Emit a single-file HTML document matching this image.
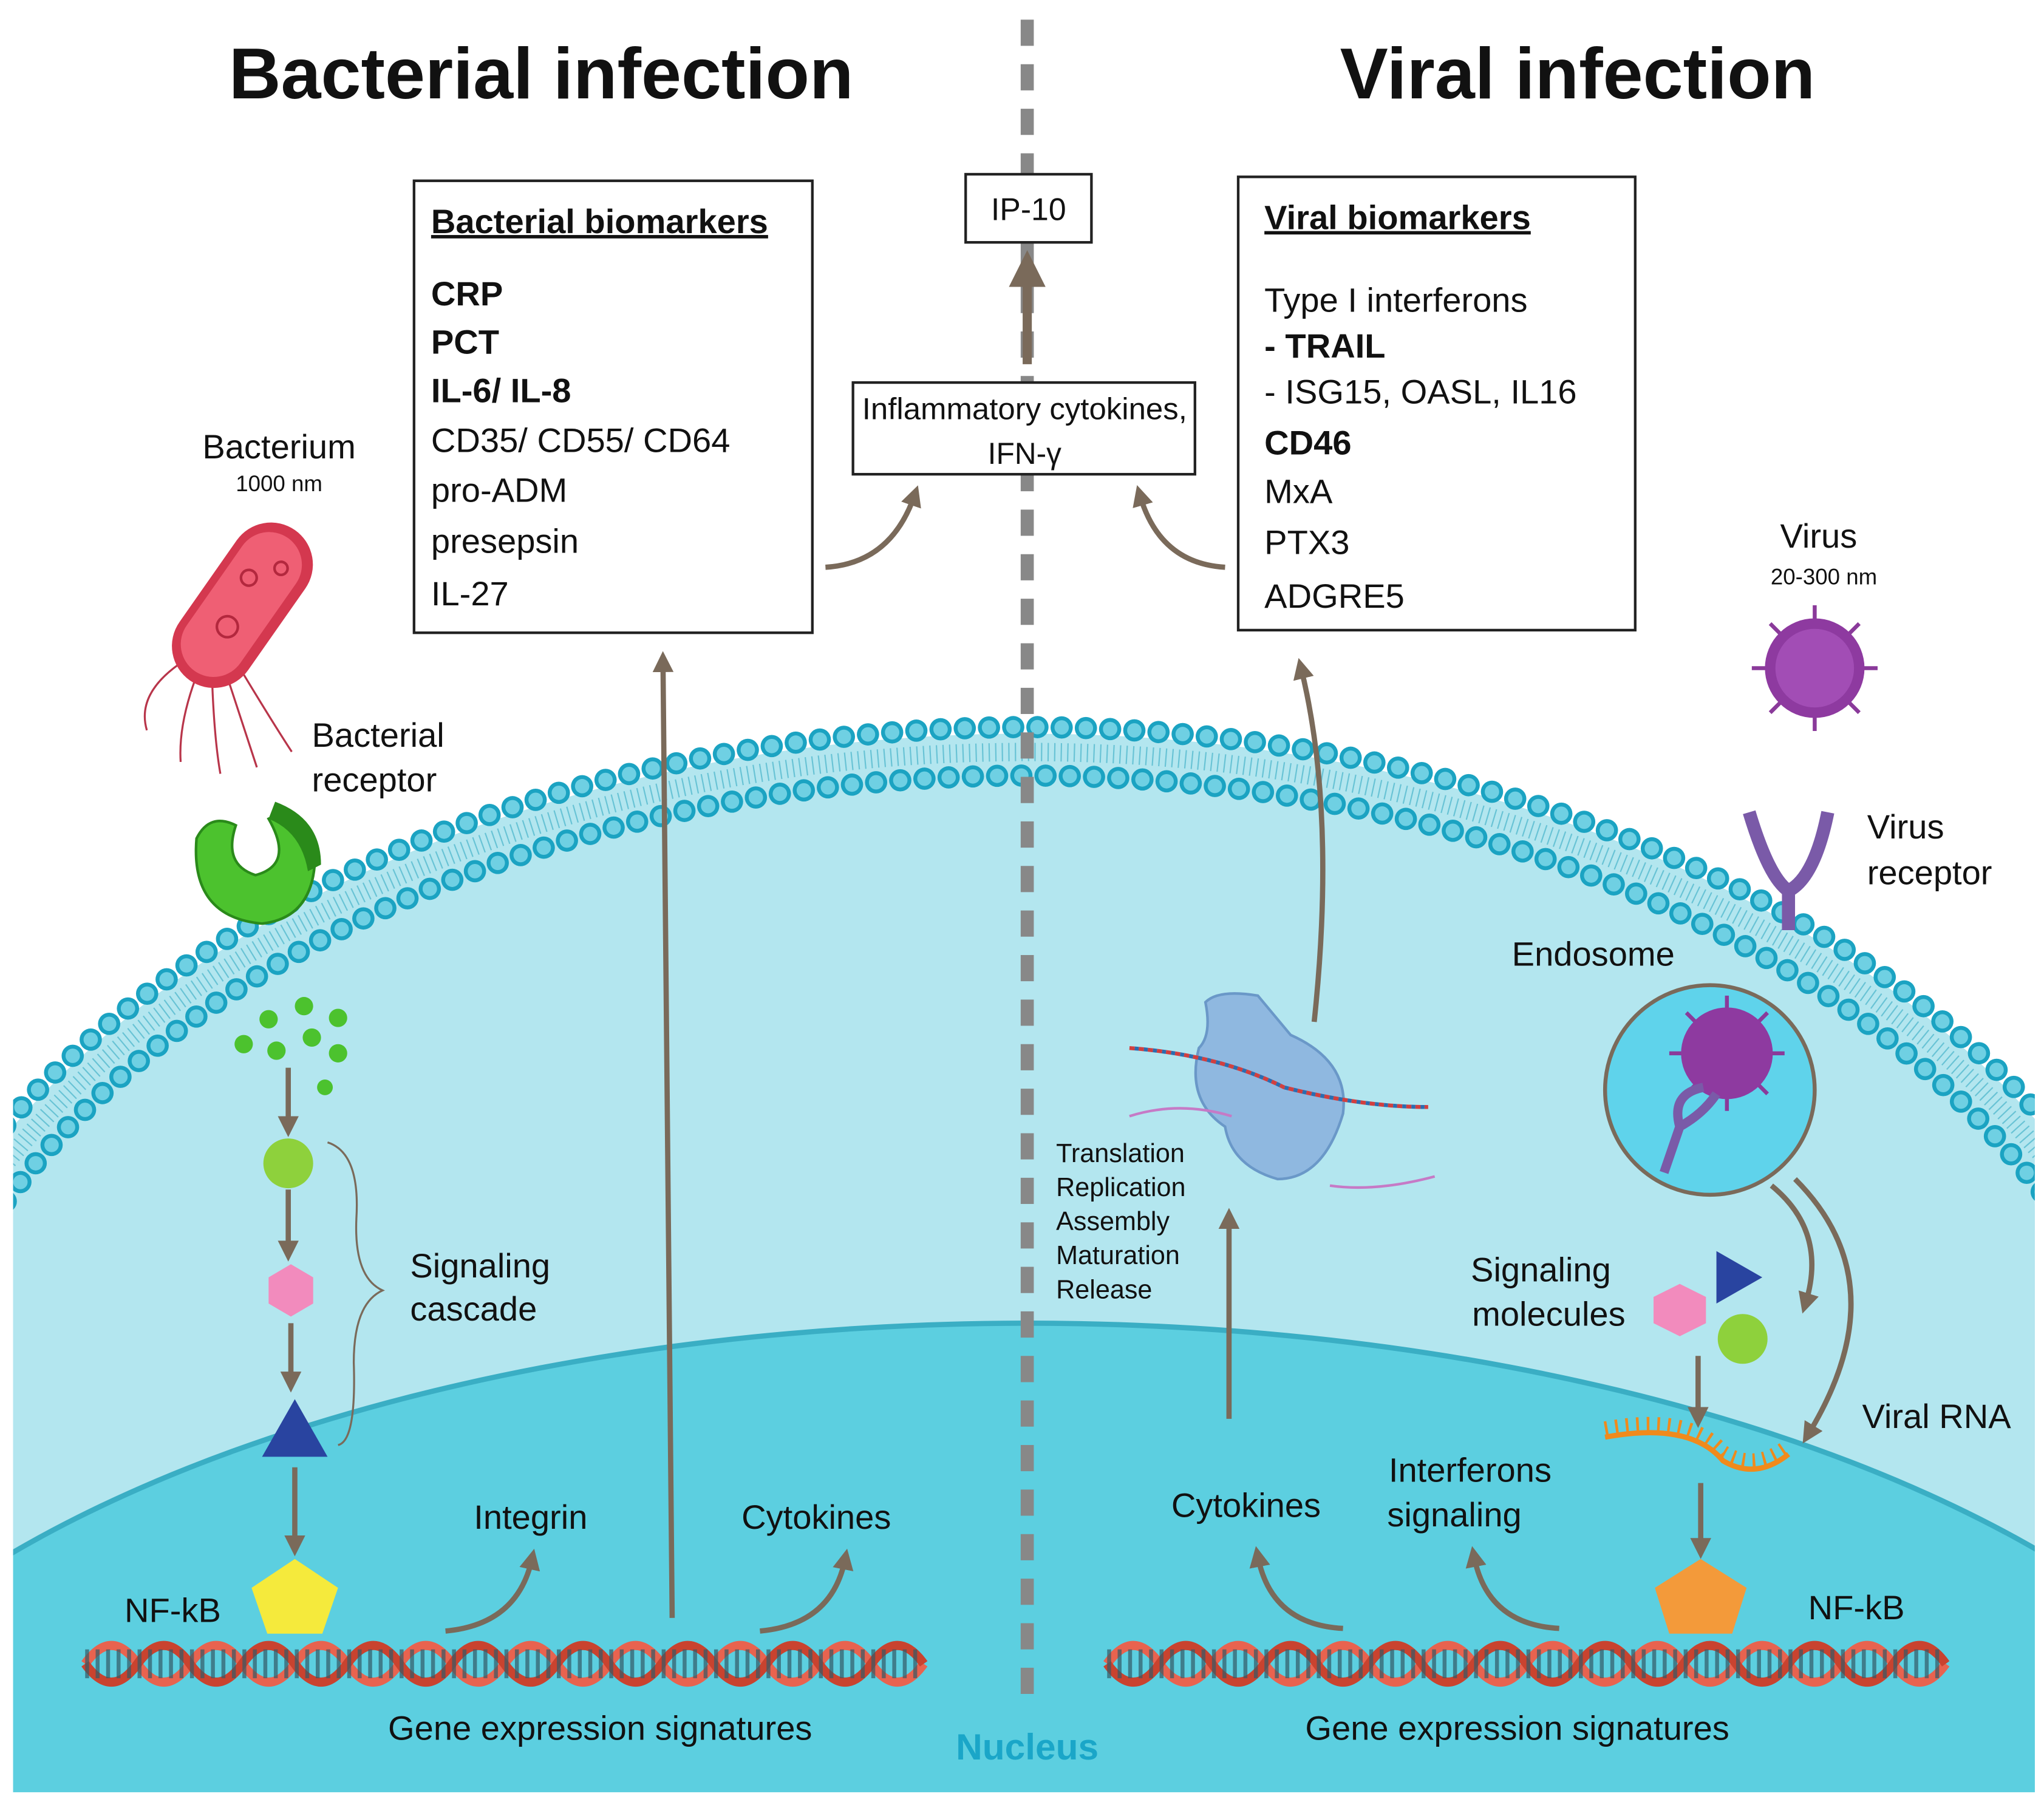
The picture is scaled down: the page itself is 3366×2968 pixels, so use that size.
<!DOCTYPE html>
<html><head><meta charset="utf-8"><style>
html,body{margin:0;padding:0;background:#fff;width:3366px;height:2968px;overflow:hidden;}
svg{display:block;}
text{font-family:"Liberation Sans",sans-serif;fill:#111;}
</style></head><body>
<svg width="3366" height="2968" viewBox="0 0 1560 1375.5" preserveAspectRatio="none" xmlns="http://www.w3.org/2000/svg">
<defs>
<clipPath id="cc"><rect x="10" y="0" width="1543" height="1368"/></clipPath>
<marker id="ah" viewBox="0 0 10 10" refX="5" refY="5" markerWidth="4" markerHeight="4" orient="auto"><path d="M0,0 L10,5 L0,10 z" fill="#7a6a5a"/></marker>
</defs>
<rect width="1560" height="1376" fill="#fff"/>
<g clip-path="url(#cc)">
<ellipse cx="784" cy="1172" rx="900" ry="612" fill="#b3e6ef"/>
<ellipse cx="784" cy="1172" rx="886" ry="598" fill="none" stroke="#1e9fbb" stroke-width="14" stroke-dasharray="1 4" opacity="0.5"/>
<ellipse cx="784" cy="1172" rx="905" ry="617" fill="none" stroke="#1ba3c2" stroke-width="17" stroke-dasharray="0 18.5" stroke-linecap="round"/>
<ellipse cx="784" cy="1172" rx="905" ry="617" fill="none" stroke="#6fd0e3" stroke-width="11" stroke-dasharray="0 18.5" stroke-linecap="round"/>
<ellipse cx="784" cy="1172" rx="868" ry="580" fill="none" stroke="#1ba3c2" stroke-width="17" stroke-dasharray="0 18.5" stroke-linecap="round"/>
<ellipse cx="784" cy="1172" rx="868" ry="580" fill="none" stroke="#6fd0e3" stroke-width="11" stroke-dasharray="0 18.5" stroke-linecap="round"/>
<ellipse cx="784" cy="1172" rx="858" ry="570" fill="#b3e6ef"/>
<ellipse cx="784" cy="1487" rx="1000" ry="477" fill="#5ccfe0" stroke="#3aaec4" stroke-width="4"/>
</g>
<line x1="784" y1="15" x2="784" y2="1300" stroke="#888" stroke-width="10" stroke-dasharray="20 14"/>
<text x="413" y="75" font-size="55" font-weight="bold" text-anchor="middle">Bacterial infection</text>
<text x="1204" y="75" font-size="55" font-weight="bold" text-anchor="middle">Viral infection</text>
<g fill="#fff" stroke="#222" stroke-width="2">
<rect x="316" y="138" width="304" height="345"/>
<rect x="737" y="133" width="96" height="52"/>
<rect x="651" y="292" width="261" height="70"/>
<rect x="945" y="135" width="303" height="346"/>
</g>
<g font-size="26">
<text x="329" y="178" font-weight="bold" text-decoration="underline">Bacterial biomarkers</text>
<text x="329" y="233" font-weight="bold">CRP</text>
<text x="329" y="270" font-weight="bold">PCT</text>
<text x="329" y="307" font-weight="bold">IL-6/ IL-8</text>
<text x="329" y="345">CD35/ CD55/ CD64</text>
<text x="329" y="383">pro-ADM</text>
<text x="329" y="422">presepsin</text>
<text x="329" y="462">IL-27</text>
<text x="965" y="175" font-weight="bold" text-decoration="underline">Viral biomarkers</text>
<text x="965" y="238">Type I interferons</text>
<text x="965" y="273" font-weight="bold">- TRAIL</text>
<text x="965" y="308">- ISG15, OASL, IL16</text>
<text x="965" y="347" font-weight="bold">CD46</text>
<text x="965" y="384">MxA</text>
<text x="965" y="423">PTX3</text>
<text x="965" y="464">ADGRE5</text>
</g>
<text x="785" y="168" font-size="24" text-anchor="middle">IP-10</text>
<text x="782" y="320" font-size="23" text-anchor="middle" textLength="248" lengthAdjust="spacingAndGlyphs">Inflammatory cytokines,</text>
<text x="782" y="354" font-size="23" text-anchor="middle">IFN-γ</text>
<g fill="none" stroke="#7a6a5a" stroke-width="4" marker-end="url(#ah)">
<line x1="784" y1="278" x2="784" y2="205" stroke-width="7"/>
<path d="M630,433 Q680,430 698,378"/>
<path d="M935,433 Q885,430 870,378"/>
<path d="M513,1235 L506,505"/>
<path d="M1003,780 Q1020,620 993,510"/>
<line x1="938" y1="1083" x2="938" y2="930"/>
<path d="M340,1245 Q395,1240 406,1190"/>
<path d="M580,1245 Q635,1240 645,1190"/>
<path d="M1025,1243 Q970,1240 960,1188"/>
<path d="M1190,1243 Q1135,1240 1125,1188"/>
<line x1="220" y1="815" x2="220" y2="860"/>
<line x1="220" y1="908" x2="220" y2="955"/>
<line x1="222" y1="1010" x2="222" y2="1055"/>
<line x1="225" y1="1120" x2="225" y2="1180"/>
<line x1="1296" y1="1035" x2="1296" y2="1082"/>
<line x1="1298" y1="1132" x2="1298" y2="1182"/>
<path d="M1352,905 Q1395,940 1378,995"/>
<path d="M1370,900 Q1450,980 1380,1095"/>
</g>
<g transform="translate(185,462) rotate(-55)">
<g stroke="#b8354a" stroke-width="1.5" fill="none">
<path d="M-55,-10 Q-100,-30 -120,-5"/><path d="M-55,0 Q-100,10 -125,30"/><path d="M-55,10 Q-95,40 -115,60"/><path d="M-50,20 Q-80,60 -95,80"/><path d="M-40,25 Q-60,70 -70,95"/>
</g>
<rect x="-70" y="-32" width="140" height="64" rx="32" fill="#d4384f"/>
<rect x="-62" y="-26" width="124" height="50" rx="25" fill="#ef5f74"/>
<circle cx="-20" cy="0" r="8" fill="none" stroke="#b3283e" stroke-width="2"/><circle cx="20" cy="-8" r="6" fill="none" stroke="#b3283e" stroke-width="2"/><circle cx="40" cy="8" r="5" fill="none" stroke="#b3283e" stroke-width="2"/>
</g>
<text x="213" y="350" font-size="26" text-anchor="middle">Bacterium</text>
<text x="213" y="375" font-size="17" text-anchor="middle">1000 nm</text>
<text x="238" y="570" font-size="26">Bacterial</text>
<text x="238" y="604" font-size="26">receptor</text>
<path d="M150,640 Q145,700 200,705 Q245,700 240,640 Q225,615 205,625 Q225,660 195,668 Q170,660 180,630 Q160,620 150,640z" fill="#4cc22e" stroke="#2a8a1a" stroke-width="2"/>
<path d="M210,612 Q245,625 245,660 L235,665 Q230,635 205,625z" fill="#2a8a1a"/>
<g fill="#4cc22e"><circle cx="186" cy="797" r="7"/><circle cx="205" cy="778" r="7"/><circle cx="232" cy="768" r="7"/><circle cx="258" cy="777" r="7"/><circle cx="211" cy="802" r="7"/><circle cx="238" cy="792" r="7"/><circle cx="258" cy="804" r="7"/><circle cx="248" cy="830" r="6"/></g>
<circle cx="220" cy="888" r="19" fill="#8ed13c"/>
<polygon points="222,965 239,975 239,995 222,1005 205,995 205,975" fill="#f28bbd"/>
<polygon points="225,1068 250,1112 200,1112" fill="#2944a0"/>
<polygon points="225,1190 258,1212 246,1247 204,1247 192,1212" fill="#f5ea3c"/>
<path d="M250,872 Q275,880 272,930 Q270,975 292,985 Q270,995 270,1040 Q272,1100 258,1103" fill="none" stroke="#7a6a5a" stroke-width="1.5"/>
<text x="313" y="975" font-size="26">Signaling</text>
<text x="313" y="1008" font-size="26">cascade</text>
<text x="95" y="1238" font-size="26">NF-kB</text>
<text x="405" y="1167" font-size="26" text-anchor="middle">Integrin</text>
<text x="623" y="1167" font-size="26" text-anchor="middle">Cytokines</text>
<g fill="none" stroke-width="7">
<path d="M65,1270 q20,-28 40,0 t40,0 t40,0 t40,0 t40,0 t40,0 t40,0 t40,0 t40,0 t40,0 t40,0 t40,0 t40,0 t40,0 t40,0 t40,0" stroke="#e8634f"/>
<path d="M65,1270 q20,28 40,0 t40,0 t40,0 t40,0 t40,0 t40,0 t40,0 t40,0 t40,0 t40,0 t40,0 t40,0 t40,0 t40,0 t40,0 t40,0" stroke="#c9432f"/>
<path d="M845,1270 q20,-28 40,0 t40,0 t40,0 t40,0 t40,0 t40,0 t40,0 t40,0 t40,0 t40,0 t40,0 t40,0 t40,0 t40,0 t40,0 t40,0" stroke="#e8634f"/>
<path d="M845,1270 q20,28 40,0 t40,0 t40,0 t40,0 t40,0 t40,0 t40,0 t40,0 t40,0 t40,0 t40,0 t40,0 t40,0 t40,0 t40,0 t40,0" stroke="#c9432f"/>
<line x1="65" y1="1270" x2="705" y2="1270" stroke="#335a66" stroke-width="22" stroke-dasharray="3 5" opacity="0.7"/>
<line x1="845" y1="1270" x2="1485" y2="1270" stroke="#335a66" stroke-width="22" stroke-dasharray="3 5" opacity="0.7"/>
</g>
<text x="458" y="1328" font-size="26" text-anchor="middle">Gene expression signatures</text>
<text x="1158" y="1328" font-size="26" text-anchor="middle">Gene expression signatures</text>
<text x="784" y="1343" font-size="28" font-weight="bold" text-anchor="middle" style="fill:#1aa6c8">Nucleus</text>
<text x="951" y="1158" font-size="26" text-anchor="middle">Cytokines</text>
<text x="1122" y="1131" font-size="26" text-anchor="middle">Interferons</text>
<text x="1110" y="1165" font-size="26" text-anchor="middle">signaling</text>
<text x="1388" y="418" font-size="26" text-anchor="middle">Virus</text>
<text x="1392" y="446" font-size="17" text-anchor="middle">20-300 nm</text>
<g stroke="#8a3a9a" stroke-width="3"><line x1="1385" y1="462" x2="1385" y2="558"/><line x1="1337" y1="510" x2="1433" y2="510"/><line x1="1351" y1="476" x2="1419" y2="544"/><line x1="1419" y1="476" x2="1351" y2="544"/></g>
<circle cx="1385" cy="510" r="38" fill="#8e3aa0"/>
<circle cx="1385" cy="510" r="30" fill="#a24db5"/>
<path d="M1335,620 Q1350,670 1365,680 L1365,710 M1395,620 Q1385,670 1365,680" fill="none" stroke="#7a5aa8" stroke-width="10"/>
<text x="1425" y="640" font-size="26">Virus</text>
<text x="1425" y="675" font-size="26">receptor</text>
<text x="1216" y="737" font-size="26" text-anchor="middle">Endosome</text>
<circle cx="1305" cy="832" r="80" fill="#5fd3eb" stroke="#7a6a5a" stroke-width="3"/>
<g stroke="#8a3a9a" stroke-width="3"><line x1="1318" y1="760" x2="1318" y2="848"/><line x1="1274" y1="804" x2="1362" y2="804"/><line x1="1287" y1="773" x2="1349" y2="835"/><line x1="1349" y1="773" x2="1287" y2="835"/></g>
<circle cx="1318" cy="804" r="35" fill="#8e3aa0"/>
<path d="M1270,895 L1282,860 Q1275,835 1300,830 M1282,860 Q1300,850 1310,835" fill="none" stroke="#7a5aa8" stroke-width="7"/>
<text x="1176" y="978" font-size="26" text-anchor="middle">Signaling</text>
<text x="1182" y="1012" font-size="26" text-anchor="middle">molecules</text>
<polygon points="1282,980 1302,990 1302,1010 1282,1020 1262,1010 1262,990" fill="#f28bbd"/>
<polygon points="1310,955 1345,975 1310,995" fill="#2944a0"/>
<circle cx="1330" cy="1022" r="19" fill="#8ed13c"/>
<text x="1478" y="1090" font-size="26" text-anchor="middle">Viral RNA</text>
<path d="M1225,1097 Q1290,1085 1315,1115 Q1340,1130 1365,1110" fill="none" stroke="#f08a1c" stroke-width="4"/>
<path d="M1225,1097 Q1290,1085 1315,1115 Q1340,1130 1365,1110" fill="none" stroke="#f08a1c" stroke-width="12" stroke-dasharray="2 6" transform="translate(0,-6)"/>
<polygon points="1298,1190 1333,1212 1322,1247 1274,1247 1263,1212" fill="#f39a3a"/>
<text x="1380" y="1236" font-size="26">NF-kB</text>
<path d="M920,765 Q930,755 960,760 L985,790 Q1030,810 1025,850 Q1010,900 975,900 Q940,890 935,860 Q905,840 915,800 Q925,790 920,765z" fill="#8fb8e0" stroke="#6a98c8" stroke-width="2"/>
<path d="M862,800 Q930,805 980,830 Q1040,845 1090,845" fill="none" stroke="#d23f3f" stroke-width="3" stroke-dasharray="4 3"/>
<path d="M862,800 Q930,805 980,830 Q1040,845 1090,845" fill="none" stroke="#2b6cb0" stroke-width="3" stroke-dasharray="3 4" stroke-dashoffset="3"/>
<path d="M862,852 Q900,840 940,852" fill="none" stroke="#c67ac6" stroke-width="2"/>
<path d="M1015,905 Q1050,910 1095,898" fill="none" stroke="#c67ac6" stroke-width="2"/>
<g font-size="20"><text x="806" y="887">Translation</text><text x="806" y="913">Replication</text><text x="806" y="939">Assembly</text><text x="806" y="965">Maturation</text><text x="806" y="991">Release</text></g>
</svg>
</body></html>
